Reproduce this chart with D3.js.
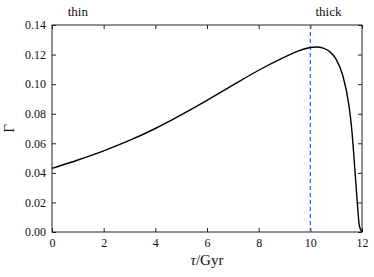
<!DOCTYPE html>
<html>
<head>
<meta charset="utf-8">
<style>
  body { margin: 0; background: #fff; }
  text { font-family: "Liberation Serif", "DejaVu Serif", serif; fill: #111; }
</style>
</head>
<body>
<svg width="374" height="277"></svg>
<script src="https://cdn.jsdelivr.net/npm/d3@7"></script>
<script>

  var tau = [0, 1, 2, 3, 4, 5, 6, 7, 8, 9, 9.5, 10, 10.25, 10.5, 10.75, 11, 11.25, 11.5, 11.6, 11.7, 11.8, 11.9, 12];
  var gamma = [0.0430, 0.0487, 0.0549, 0.0619, 0.0700, 0.0792, 0.0890, 0.0993, 0.1094, 0.1183, 0.1222, 0.1248, 0.1251, 0.1243, 0.1220, 0.1168, 0.1062, 0.0850, 0.0700, 0.0480, 0.0240, 0.0040, 0.0];
  var xTicks = [0, 2, 4, 6, 8, 10, 12];
  var yTicks = [0, 0.02, 0.04, 0.06, 0.08, 0.10, 0.12, 0.14];
  var splitAge = 10;
  var regionLabels = [{name: "thin", at: 1}, {name: "thick", at: 10.7}];

  var svg = d3.select("svg"),
    margin = {top: 25, right: 12, bottom: 45, left: 52},
    width = +svg.attr("width") - margin.left - margin.right,
    height = +svg.attr("height") - margin.top - margin.bottom,
    g = svg.append("g").attr("transform", "translate(" + margin.left + "," + margin.top + ")");

  var x = d3.scaleLinear().domain([0, 12]).range([0, width]);
  var y = d3.scaleLinear().domain([0, 0.14]).range([height, 0]);

  var data = tau.map(function (t, i) { return {tau: t, g: gamma[i]}; });

  // axes with inward ticks on all four sides
  function styleAxis(sel) {
    sel.attr("font-family", null).attr("font-size", null);
    sel.select(".domain").remove();
    sel.selectAll("line").attr("stroke", "#222");
    sel.selectAll("text").style("font-size", "12px");
  }

  g.append("g")
    .attr("transform", "translate(0," + height + ")")
    .call(d3.axisBottom(x).tickValues(xTicks).tickFormat(d3.format("d")).tickSizeInner(-4).tickPadding(6))
    .call(styleAxis);

  g.append("g")
    .call(d3.axisTop(x).tickValues(xTicks).tickFormat("").tickSizeInner(-4))
    .call(styleAxis);

  g.append("g")
    .call(d3.axisLeft(y).tickValues(yTicks).tickFormat(d3.format(".2f")).tickSizeInner(-4).tickPadding(6))
    .call(styleAxis);

  g.append("g")
    .attr("transform", "translate(" + width + ",0)")
    .call(d3.axisRight(y).tickValues(yTicks).tickFormat("").tickSizeInner(-4))
    .call(styleAxis);

  g.append("rect")
    .attr("width", width)
    .attr("height", height)
    .attr("fill", "none")
    .attr("stroke", "#222")
    .attr("stroke-width", 1);

  g.append("line")
    .attr("x1", x(splitAge)).attr("x2", x(splitAge))
    .attr("y1", 0).attr("y2", height)
    .attr("stroke", "#2060ff")
    .attr("stroke-width", 1.2)
    .attr("stroke-dasharray", "4,3");

  var line = d3.line()
    .x(function (d) { return x(d.tau); })
    .y(function (d) { return y(d.g); })
    .curve(d3.curveMonotoneX);

  g.append("path")
    .datum(data)
    .attr("fill", "none")
    .attr("stroke", "#000")
    .attr("stroke-width", 1.4)
    .attr("d", line);

  g.selectAll(".region")
    .data(regionLabels)
    .enter().append("text")
    .attr("x", function (d) { return x(d.at); })
    .attr("y", -9)
    .attr("text-anchor", "middle")
    .style("font-size", "13px")
    .text(function (d) { return d.name; });

  var xl = svg.append("text")
    .attr("x", margin.left + width / 2)
    .attr("y", 265)
    .attr("text-anchor", "middle")
    .style("font-size", "15px");
  xl.append("tspan").style("font-style", "italic").text("\u03c4");
  xl.append("tspan").text("/Gyr");

  svg.append("text")
    .attr("transform", "translate(14," + (margin.top + height / 2) + ") rotate(-90)")
    .attr("text-anchor", "middle")
    .style("font-size", "15px")
    .text("\u0393");

</script>
</body>
</html>
